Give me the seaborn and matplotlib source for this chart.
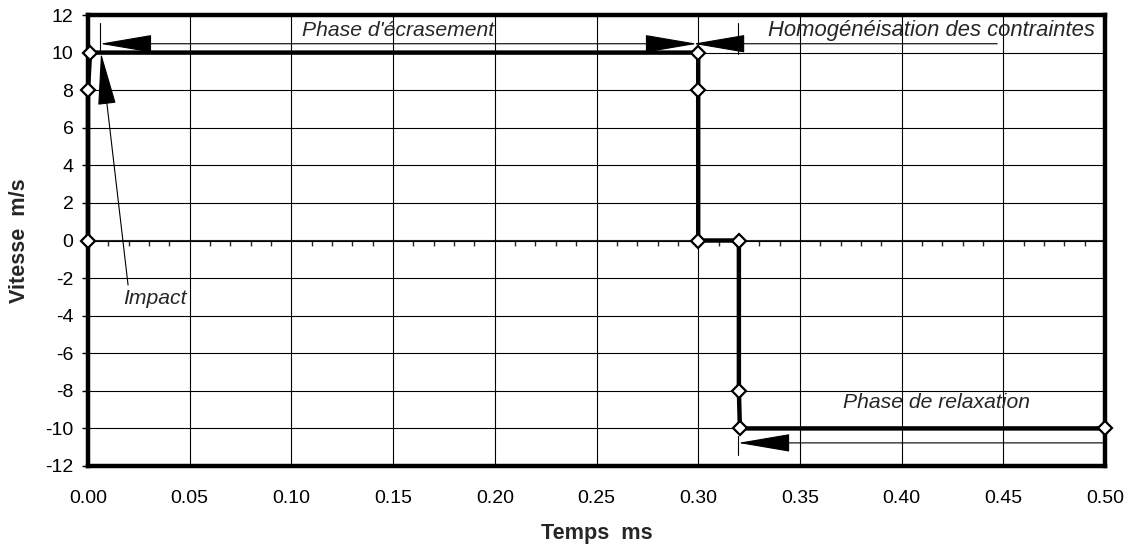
import matplotlib

matplotlib.use("Agg")
import matplotlib.pyplot as plt
import numpy as np
import pandas as pd
import seaborn as sns
from matplotlib.ticker import MultipleLocator, NullFormatter

# Vitesse en fonction du temps (lecture sur le graphique)
temps = [0.0, 0.0, 0.001, 0.300, 0.300, 0.300, 0.320, 0.320, 0.3205, 0.500]
vitesse = [0, 8, 10, 10, 8, 0, 0, -8, -10, -10]

x_ticks = [0.00, 0.05, 0.10, 0.15, 0.20, 0.25, 0.30, 0.35, 0.40, 0.45, 0.50]
y_ticks = [-12, -10, -8, -6, -4, -2, 0, 2, 4, 6, 8, 10, 12]

# annotations : (texte, x, y, alignement, taille)
labels = [
    ("Phase d'écrasement", 0.1525, 11.15, "center", 15.2),
    ("Homogénéisation des contraintes", 0.3345, 11.15, "left", 15.8),
    ("Impact", 0.033, -3.1, "center", 15.2),
    ("Phase de relaxation", 0.417, -8.6, "center", 15.2),
]
# flèches : (début, fin, style)
arrows = [
    ((0.0059, 10.47), (0.2994, 10.47), "<|-|>"),
    ((0.447, 10.47), (0.2975, 10.47), "-|>"),
    ((0.0197, -2.37), (0.0064, 9.98), "-|>"),
    ((0.500, -10.77), (0.3196, -10.77), "-|>"),
]
# petits traits verticaux aux limites de phase
marks_x = [0.0059, 0.3196, 0.3196]
marks_y0 = [11.57, 11.57, -10.4]
marks_y1 = [9.98, 9.9, -11.4]

df = pd.DataFrame({"Temps": temps, "Vitesse": vitesse})

sns.set_style("ticks")
plt.rcParams["font.family"] = ["Liberation Sans", "DejaVu Sans"]
plt.rcParams["axes.unicode_minus"] = False

fig = plt.figure(figsize=(11.31, 5.49), dpi=100)
ax = fig.add_axes([88 / 1131, 1 - 466 / 549, (1105 - 88) / 1131, (466 - 15) / 549])

ax.set_xlim(0, 0.5)
ax.set_ylim(-12, 12)
ax.set_xticks(x_ticks)
ax.set_xticklabels([f"{v:.2f}" for v in x_ticks])
ax.set_yticks(y_ticks)
ax.grid(True, color="black", linewidth=0.8, zorder=0)
ax.set_axisbelow(True)
for sp in ax.spines.values():
    sp.set_linewidth(3.2)
    sp.set_color("black")
ax.tick_params(axis="x", length=0, pad=17, labelsize=14, colors="black")
ax.tick_params(axis="y", length=4.5, width=1, pad=6, labelsize=14, colors="black")

# axe des abscisses à vitesse nulle avec graduations secondaires
sec = ax.secondary_xaxis(0.5)
sec.spines["bottom"].set_linewidth(1.2)
sec.xaxis.set_major_locator(MultipleLocator(0.05))
sec.xaxis.set_minor_locator(MultipleLocator(0.01))
sec.xaxis.set_major_formatter(NullFormatter())
sec.xaxis.set_minor_formatter(NullFormatter())
sec.tick_params(which="major", length=0)
sec.tick_params(which="minor", direction="in", length=4, width=1)

sns.lineplot(
    data=df,
    x="Temps",
    y="Vitesse",
    sort=False,
    estimator=None,
    errorbar=None,
    color="black",
    linewidth=3.2,
    marker="D",
    markersize=7,
    markerfacecolor="white",
    markeredgecolor="black",
    markeredgewidth=1.6,
    ax=ax,
    zorder=5,
    clip_on=False,
)

for txt, x, y, ha, size in labels:
    ax.text(x, y, txt, fontsize=size, style="italic", ha=ha, va="center",
            zorder=6, clip_on=False)

for start, end, style in arrows:
    ax.annotate(
        "",
        xy=end,
        xytext=start,
        arrowprops=dict(
            arrowstyle=f"{style},head_length=34,head_width=5.8",
            mutation_scale=1,
            color="black",
            lw=0.8,
            shrinkA=0,
            shrinkB=0,
        ),
        zorder=4,
    )

for x, y0, y1 in zip(marks_x, marks_y0, marks_y1):
    ax.plot([x, x], [y0, y1], color="black", lw=0.8, zorder=4, clip_on=False)

ax.set_xlabel("Temps  ms", fontsize=15.6, fontweight="bold", labelpad=12)
ax.set_ylabel("Vitesse  m/s", fontsize=15.6, fontweight="bold", labelpad=11)

fig.savefig("out.png", dpi=100)
